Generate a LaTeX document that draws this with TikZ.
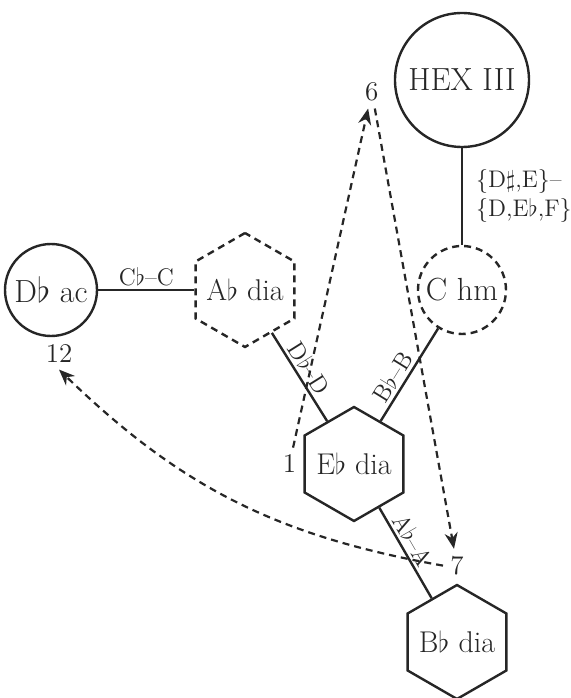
\documentclass[tikz,border=0pt]{standalone}
\usepackage{tikz}
\usetikzlibrary{arrows.meta,positioning}
\usetikzlibrary{shapes}

\begin{document}
\begin{tikzpicture}[x=1pt,y=1pt,>={Stealth[length=8pt,width=6.5pt]},on grid,
  every node/.style={text=black!85},
  chordtext/.style={font=\fontsize{16}{19}\selectfont},
  hextext/.style={font=\fontsize{15}{18}\selectfont},
  chord/.style={draw=black!85,line width=1.2pt,circle,inner sep=0pt,chordtext},
  hexchord/.style={draw=black!85,line width=1.2pt,regular polygon,regular polygon sides=6,shape border rotate=30,minimum size=57pt,inner sep=0pt},
  tentative/.style={dash pattern=on 3.5pt off 2.5pt},
  link/.style={draw=black!85,line width=1.2pt},
  move/.style={->,draw=black!85,line width=1.1pt,dash pattern=on 3.5pt off 2.5pt},
  lab/.style={font=\fontsize{12}{14.5}\selectfont,inner sep=1.5pt},
  num/.style={font=\fontsize{13.5}{15}\selectfont,inner sep=3.5pt}]
  \useasboundingbox (0,0) rectangle (285.5,349);

  \node[chord,minimum size=46pt] (dac) at (25.5,204) {D$\flat$ ac};
  \node[hexchord,tentative,label={[hextext]center:A$\flat$ dia}] (adia) [right=97pt of dac] {};
  \node[chord,tentative,minimum size=44pt] (chm) [right=108.5pt of adia] {C hm};
  \node[chord,minimum size=67pt] (hex) [above=105pt of chm] {HEX III};
  \node[hexchord,label={[hextext]center:E$\flat$ dia}] (edia) [below right=87pt and 54.5pt of adia] {};
  \node[hexchord,label={[hextext]center:B$\flat$ dia}] (bdia) [below right=89pt and 51.5pt of edia] {};

  \node[num] (n12) at ([xshift=4pt,yshift=-8pt]dac.south) {12};
  \node[num] (n1) at ([xshift=-7pt]edia.west) {1};
  \node[num] (n6) at ([xshift=-11.5pt]hex.190) {6};
  \node[num] (n7) at ([yshift=9pt]bdia.north) {7};

  \path (dac) edge[link] node[lab,above] {C$\flat$--C} (adia)
        (hex) edge[link] node[lab,right,align=left,xshift=5pt] {\{D$\sharp$,E\}--\\\{D,E$\flat$,F\}} (chm)
        (adia) edge[link] node[lab,sloped,above,pos=0.48] {D$\flat$--D} (edia)
        (chm) edge[link] node[lab,sloped,above,pos=0.6] {B$\flat$--B} (edia)
        (edia) edge[link] node[lab,sloped,above,pos=0.43] {A$\flat$--A} (bdia);

  \draw[move] (n1) -- (n6);
  \draw[move] (n6) -- (n7);
  \draw[move] (n7.west) to[bend left=17] (n12.south);
\end{tikzpicture}
\end{document}
